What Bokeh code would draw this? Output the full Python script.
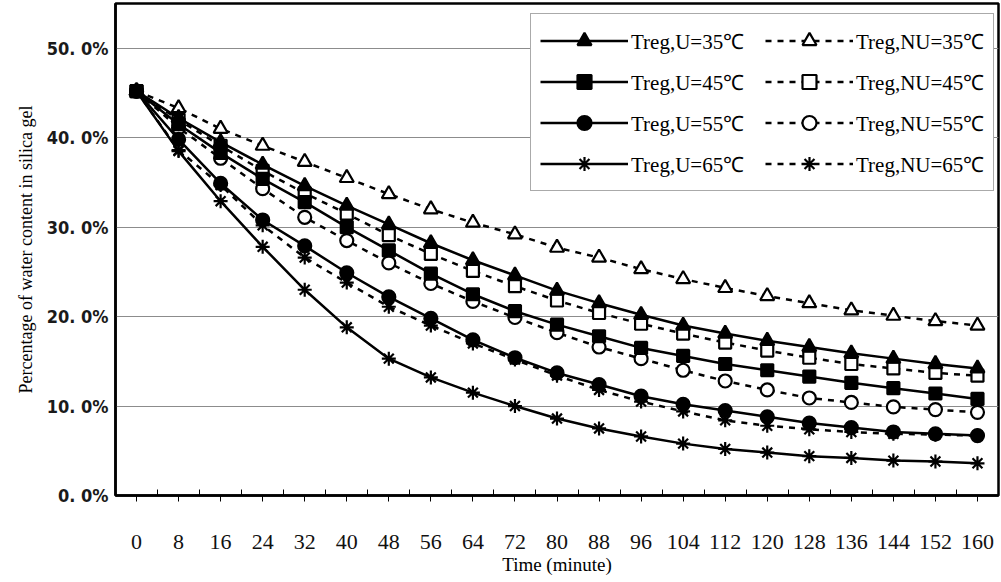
from bokeh.plotting import figure
from bokeh.models import FixedTicker, Range1d, Legend, LegendItem
from bokeh.embed import file_html
from bokeh.resources import INLINE

# ---- data ----
time_min = [0, 8, 16, 24, 32, 40, 48, 56, 64, 72, 80, 88, 96, 104, 112, 120, 128, 136, 144, 152, 160]

u35 = [45.2, 42.2, 39.5, 37.0, 34.6, 32.4, 30.3, 28.2, 26.3, 24.6, 22.9, 21.5, 20.2, 19.0, 18.1, 17.3, 16.6, 15.9, 15.3, 14.7, 14.2]
u45 = [45.2, 41.5, 38.3, 35.4, 32.8, 30.0, 27.4, 24.8, 22.5, 20.6, 19.1, 17.8, 16.5, 15.6, 14.7, 14.0, 13.3, 12.6, 12.0, 11.4, 10.8]
u55 = [45.2, 39.8, 34.9, 30.8, 27.9, 24.9, 22.2, 19.8, 17.4, 15.4, 13.7, 12.4, 11.1, 10.2, 9.5, 8.8, 8.1, 7.6, 7.1, 6.9, 6.7]
u65 = [45.2, 38.5, 32.9, 27.8, 23.0, 18.8, 15.3, 13.2, 11.5, 10.0, 8.6, 7.5, 6.6, 5.8, 5.2, 4.8, 4.4, 4.2, 3.9, 3.8, 3.6]

nu35 = [45.2, 43.3, 41.0, 39.1, 37.3, 35.5, 33.7, 32.0, 30.5, 29.2, 27.7, 26.6, 25.3, 24.2, 23.2, 22.3, 21.5, 20.7, 20.1, 19.5, 19.0]
nu45 = [45.2, 42.0, 39.1, 36.3, 33.8, 31.5, 29.1, 27.0, 25.1, 23.4, 21.8, 20.4, 19.2, 18.1, 17.1, 16.2, 15.4, 14.7, 14.2, 13.7, 13.4]
nu55 = [45.2, 41.1, 37.7, 34.3, 31.1, 28.5, 26.0, 23.7, 21.7, 19.9, 18.2, 16.6, 15.3, 14.0, 12.8, 11.8, 10.9, 10.4, 9.9, 9.6, 9.3]
nu65 = [45.2, 38.6, 34.7, 30.2, 26.6, 23.8, 21.1, 19.0, 17.0, 15.2, 13.4, 11.8, 10.5, 9.4, 8.4, 7.8, 7.4, 7.1, 6.9, 6.8, 6.7]

y_ticks = [0, 10, 20, 30, 40, 50]
y_tick_labels = ["0. 0%", "10. 0%", "20. 0%", "30. 0%", "40. 0%", "50. 0%"]

u_labels = ["Treg,U=35\u2103", "Treg,U=45\u2103", "Treg,U=55\u2103", "Treg,U=65\u2103"]
nu_labels = ["Treg,NU=35\u2103", "Treg,NU=45\u2103", "Treg,NU=55\u2103", "Treg,NU=65\u2103"]

x_title = "Time (minute)"
y_title = "Percentage of water content in silica gel"

# ---- figure ----
p = figure(width=1001, height=582, output_backend="svg", toolbar_location=None,
           x_range=Range1d(-4, 164), y_range=Range1d(0, 55),
           min_border_left=115, min_border_right=3, min_border_top=3, min_border_bottom=87)

p.outline_line_color = "black"
p.outline_line_width = 2.5
p.background_fill_color = "white"
p.border_fill_color = "white"

p.xgrid.visible = False
p.ygrid.ticker = FixedTicker(ticks=y_ticks)
p.ygrid.grid_line_color = "#8c8c8c"
p.ygrid.grid_line_width = 1.2

# y axis
p.yaxis.ticker = FixedTicker(ticks=y_ticks)
p.yaxis.major_label_overrides = {t: l for t, l in zip(y_ticks, y_tick_labels)}
p.yaxis.major_tick_out = 0
p.yaxis.major_tick_in = 0
p.yaxis.minor_tick_out = 0
p.yaxis.axis_line_color = "black"
p.yaxis.axis_line_width = 2.5
p.yaxis.major_label_standoff = 7
p.yaxis.major_label_text_font = "DejaVu Sans Condensed"
p.yaxis.major_label_text_font_style = "bold"
p.yaxis.major_label_text_font_size = "18px"
p.yaxis.major_label_text_color = "#1a1a1a"
p.yaxis.axis_label = y_title
p.yaxis.axis_label_text_font = "Liberation Serif"
p.yaxis.axis_label_text_font_style = "normal"
p.yaxis.axis_label_text_font_size = "18px"
p.yaxis.axis_label_text_color = "black"
p.yaxis.axis_label_standoff = 8

# x axis
half = [t - 4 for t in time_min] + [time_min[-1] + 4]
p.xaxis.ticker = FixedTicker(ticks=time_min, minor_ticks=half)
p.xaxis.major_tick_out = 6
p.xaxis.major_tick_in = 0
p.xaxis.minor_tick_out = 0
p.xaxis.minor_tick_in = 6
p.xaxis.major_tick_line_color = "black"
p.xaxis.minor_tick_line_color = "black"
p.xaxis.axis_line_color = "black"
p.xaxis.axis_line_width = 2.5
p.xaxis.major_label_standoff = 33
p.xaxis.major_label_text_font = "Liberation Sans Narrow"
p.xaxis.major_label_text_font_size = "22px"
p.xaxis.major_label_text_color = "#111111"
p.xaxis.axis_label = x_title
p.xaxis.axis_label_text_font = "Liberation Serif"
p.xaxis.axis_label_text_font_style = "normal"
p.xaxis.axis_label_text_font_size = "19px"
p.xaxis.axis_label_text_color = "black"
p.xaxis.axis_label_standoff = 2

# ---- series ----
nu_series = [(nu35, "triangle", 14), (nu45, "square", 12), (nu55, "circle", 13), (nu65, "asterisk", 14)]
u_series = [(u35, "triangle", 14), (u45, "square", 12), (u55, "circle", 13), (u65, "asterisk", 14)]

nu_items = []
for (vals, marker, size), lab in zip(nu_series, nu_labels):
    ln = p.line(time_min, vals, line_color="black", line_width=2.5, line_dash="6 6")
    sc = p.scatter(time_min, vals, marker=marker, size=size, fill_color="white",
                   line_color="black", line_width=2.2)
    nu_items.append(LegendItem(label=lab, renderers=[ln, sc]))

u_items = []
for (vals, marker, size), lab in zip(u_series, u_labels):
    ln = p.line(time_min, vals, line_color="black", line_width=2.5)
    sc = p.scatter(time_min, vals, marker=marker, size=size, fill_color="black",
                   line_color="black", line_width=2.2)
    u_items.append(LegendItem(label=lab, renderers=[ln, sc]))

legend = Legend(items=u_items + nu_items, location=(415, 304), orientation="vertical",
                nrows=4, ncols=2)
legend.glyph_width = 88
legend.glyph_height = 35
legend.spacing = 6
legend.padding = 9
legend.label_standoff = 3
legend.label_width = 128
legend.label_text_font = "Liberation Serif"
legend.label_text_font_size = "21px"
legend.label_text_color = "black"
legend.border_line_color = "#555555"
legend.border_line_width = 1.5
legend.background_fill_color = "white"
legend.background_fill_alpha = 1.0
p.add_layout(legend, "center")

open("out.html", "w").write(file_html(p, INLINE))
